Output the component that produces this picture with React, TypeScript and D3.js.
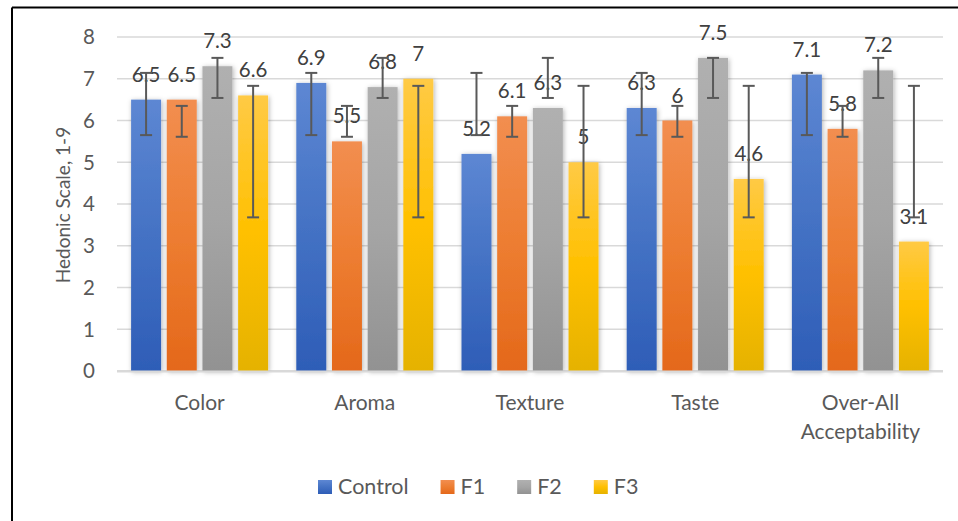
import React from "react";
import * as d3 from "d3";

const categories = ["Color", "Aroma", "Texture", "Taste", "Over-All Acceptability"];
const seriesNames = ["Control", "F1", "F2", "F3"];
const controlValues = [6.5, 6.9, 5.2, 6.3, 7.1];
const f1Values = [6.5, 5.5, 6.1, 6.0, 5.8];
const f2Values = [7.3, 6.8, 6.3, 7.5, 7.2];
const f3Values = [6.6, 7.0, 5.0, 4.6, 3.1];
const controlErrLow = [5.65, 5.65, 5.65, 5.65, 5.65];
const controlErrHigh = [7.14, 7.14, 7.14, 7.14, 7.14];
const f1ErrLow = [5.61, 5.61, 5.61, 5.61, 5.61];
const f1ErrHigh = [6.35, 6.35, 6.35, 6.35, 6.35];
const f2ErrLow = [6.54, 6.54, 6.54, 6.54, 6.54];
const f2ErrHigh = [7.5, 7.5, 7.5, 7.5, 7.5];
const f3ErrLow = [3.68, 3.68, 3.68, 3.68, 3.68];
const f3ErrHigh = [6.83, 6.83, 6.83, 6.83, 6.83];
const yTicks = [0, 1, 2, 3, 4, 5, 6, 7, 8];
const yTitle = "Hedonic Scale, 1-9";

const seriesValues = [controlValues, f1Values, f2Values, f3Values];
const seriesLow = [controlErrLow, f1ErrLow, f2ErrLow, f3ErrLow];
const seriesHigh = [controlErrHigh, f1ErrHigh, f2ErrHigh, f3ErrHigh];
const gradients = [
  ["#5d87d3", "#4472c4", "#2e5db7"],
  ["#f28e50", "#ed7d31", "#e4681a"],
  ["#b0b0b0", "#a5a5a5", "#929292"],
  ["#ffca45", "#ffc000", "#e5b200"],
];

const W = 958;
const H = 521;
const FONT = "Lato, 'Open Sans', sans-serif";

function measure(text: string, size: number) {
  if (typeof document === "undefined") return text.length * size * 0.5;
  const c = document.createElement("canvas");
  const ctx = c.getContext("2d");
  if (!ctx) return text.length * size * 0.5;
  ctx.font = `${size}px Lato`;
  return ctx.measureText(text).width;
}

export default function App() {
  const plotLeft = 117;
  const plotRight = 943;
  const y = d3.scaleLinear().domain([0, 8]).range([371, 37]);
  const x0 = d3.scaleBand<string>().domain(categories).range([plotLeft, plotRight]).padding(0);
  const groupW = 137;
  const x1 = d3
    .scaleBand<string>()
    .domain(seriesNames)
    .range([(x0.bandwidth() - groupW) / 2, (x0.bandwidth() + groupW) / 2])
    .paddingInner(0.16)
    .paddingOuter(0);
  const bw = x1.bandwidth();

  // legend layout
  const legendSize = 21.5;
  const legendItems: { name: string; x: number; i: number }[] = [];
  let lx = 318;
  seriesNames.forEach((name, i) => {
    legendItems.push({ name, x: lx, i });
    lx += 20 + measure(name, legendSize) + 32;
  });

  return (
    <svg width={W} height={H} style={{ position: "absolute", left: 0, top: 0 }} fontFamily={FONT}>
      <defs>
        {gradients.map((g, i) => (
          <linearGradient key={i} id={`grad${i}`} x1="0" y1="0" x2="0" y2="1">
            <stop offset="0%" stopColor={g[0]} />
            <stop offset="50%" stopColor={g[1]} />
            <stop offset="100%" stopColor={g[2]} />
          </linearGradient>
        ))}
        <filter id="shadow" x="-30%" y="-10%" width="160%" height="120%">
          <feDropShadow dx="1" dy="1" stdDeviation="2.5" floodColor="#000" floodOpacity="0.3" />
        </filter>
      </defs>
      <rect x={0} y={0} width={W} height={H} fill="#fff" />
      {/* border */}
      <line x1={12} y1={7.5} x2={W} y2={7.5} stroke="#000" strokeWidth={2} />
      <line x1={12} y1={7.5} x2={12} y2={H} stroke="#000" strokeWidth={2} />

      {/* gridlines */}
      {yTicks.map((t) => (
        <line
          key={t}
          x1={plotLeft}
          x2={plotRight}
          y1={y(t)}
          y2={y(t)}
          stroke="#d9d9d9"
          strokeWidth={t === 0 ? 2 : 1.5}
        />
      ))}
      {/* tick labels */}
      {yTicks.map((t) => (
        <text key={t} x={95} y={y(t)} dy="0.36em" textAnchor="end" fontSize={20.5} fill="#595959">
          {t}
        </text>
      ))}
      {/* y title */}
      <text
        transform={`translate(70,205) rotate(-90)`}
        textAnchor="middle"
        fontSize={19}
        fill="#595959"
      >
        {yTitle}
      </text>

      {/* bars */}
      {categories.map((cat, ci) => (
        <g key={cat} transform={`translate(${x0(cat)},0)`}>
          {seriesNames.map((s, si) => {
            const v = seriesValues[si][ci];
            return (
              <rect
                key={s}
                x={x1(s)}
                y={y(v)}
                width={bw}
                height={y(0) - y(v)}
                fill={`url(#grad${si})`}
                filter="url(#shadow)"
              />
            );
          })}
        </g>
      ))}
      {/* axis line */}
      <line x1={plotLeft} x2={plotRight} y1={y(0) + 0.5} y2={y(0) + 0.5} stroke="#d9d9d9" strokeWidth={2} />

      {/* data labels */}
      {categories.map((cat, ci) => (
        <g key={cat} transform={`translate(${x0(cat)},0)`}>
          {seriesNames.map((s, si) => {
            const v = seriesValues[si][ci];
            return (
              <text
                key={s}
                x={(x1(s) as number) + bw / 2}
                y={y(v) - 18}
                textAnchor="middle"
                fontSize={20.5}
                fill="#404040"
              >
                {String(v)}
              </text>
            );
          })}
        </g>
      ))}

      {/* error bars */}
      {categories.map((cat, ci) => (
        <g key={cat} transform={`translate(${x0(cat)},0)`} stroke="#595959" strokeWidth={2}>
          {seriesNames.map((s, si) => {
            const cx = (x1(s) as number) + bw / 2;
            const lo = y(seriesLow[si][ci]);
            const hi = y(seriesHigh[si][ci]);
            return (
              <g key={s}>
                <line x1={cx} x2={cx} y1={lo} y2={hi} />
                <line x1={cx - 6} x2={cx + 6} y1={lo} y2={lo} />
                <line x1={cx - 6} x2={cx + 6} y1={hi} y2={hi} />
              </g>
            );
          })}
        </g>
      ))}

      {/* category labels */}
      {categories.map((cat) => {
        const cx = (x0(cat) as number) + x0.bandwidth() / 2;
        const lines = cat === "Over-All Acceptability" ? ["Over-All", "Acceptability"] : [cat];
        return (
          <text key={cat} x={cx} y={410} textAnchor="middle" fontSize={21} fill="#595959">
            {lines.map((l, li) => (
              <tspan key={li} x={cx} dy={li === 0 ? 0 : 29}>
                {l}
              </tspan>
            ))}
          </text>
        );
      })}

      {/* legend */}
      {legendItems.map((it) => (
        <g key={it.name}>
          <rect x={it.x} y={480} width={14} height={14} fill={`url(#grad${it.i})`} />
          <text x={it.x + 20} y={494} fontSize={legendSize} fill="#595959">
            {it.name}
          </text>
        </g>
      ))}
    </svg>
  );
}
